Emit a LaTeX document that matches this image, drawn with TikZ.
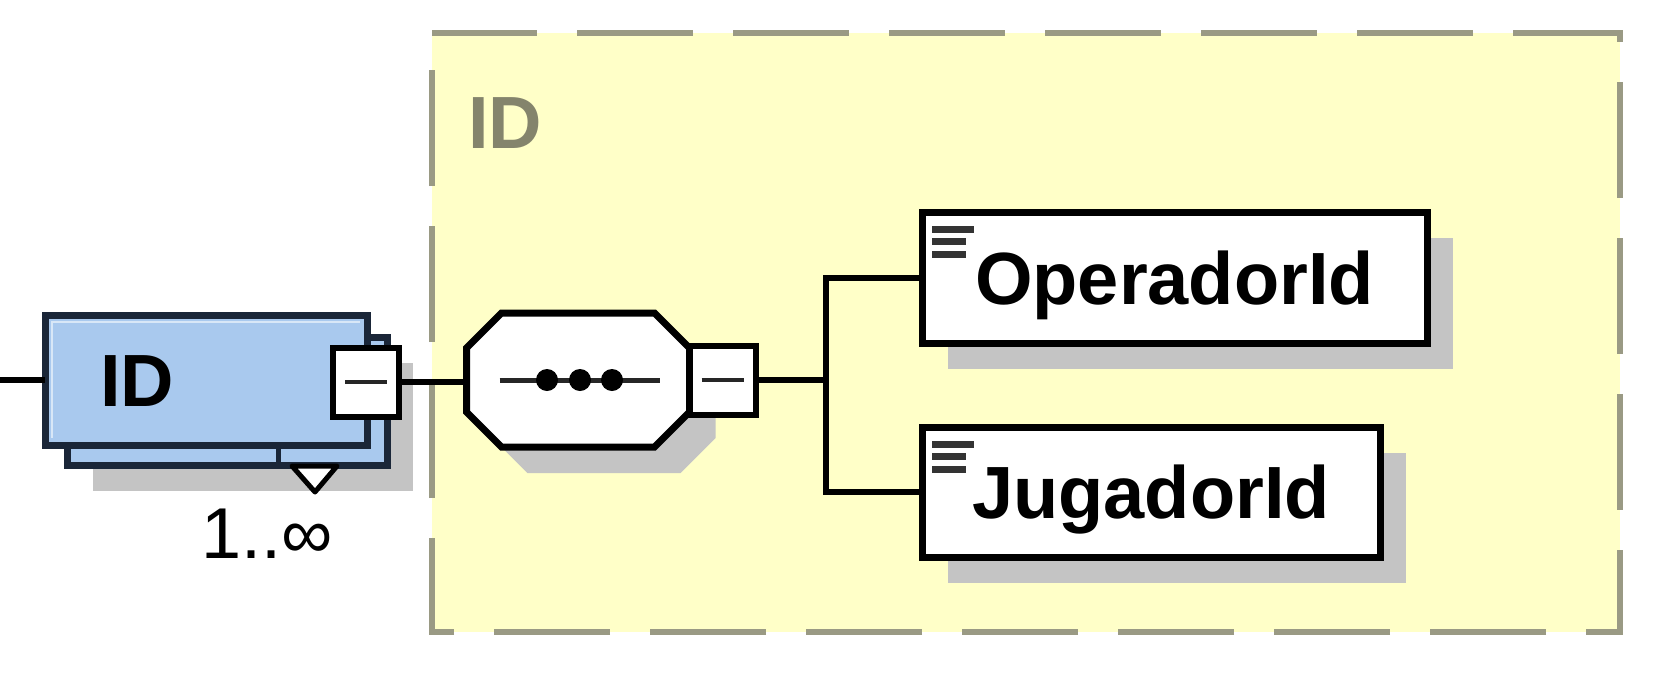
\documentclass[tikz,border=0pt]{standalone}
\usepackage{fontspec}
\setmainfont{Liberation Sans}
\usetikzlibrary{positioning,shadows}
\definecolor{groupbg}{HTML}{FFFFC8}
\definecolor{groupline}{HTML}{9A9A84}
\definecolor{grouptext}{HTML}{84846C}
\definecolor{elemblue}{HTML}{A9C9EE}
\definecolor{elemedge}{HTML}{1A2638}
\definecolor{shade}{HTML}{C4C4C4}

\begin{document}
\begin{tikzpicture}[x=1pt,y=-1pt,
    every node/.style={outer sep=0pt},
    conn/.style={line width=6pt,black},
    shd/.style={drop shadow={shadow xshift=26pt,shadow yshift=-26pt,fill=shade,opacity=1}},
    bigtext/.style={font=\fontsize{74}{84}\selectfont\bfseries,text height=53pt,text depth=0pt},
    elem/.style={draw=black,line width=7pt,fill=white,shd,bigtext,anchor=north west},
    stackbox/.style={draw=elemedge,line width=7pt,fill=elemblue,anchor=north west},
    minus/.style={draw=black,line width=6pt,fill=white,minimum width=66pt,minimum height=69pt,inner sep=0pt}]

    \useasboundingbox[fill=white] (0,0) rectangle (1663,675);

    % complex type frame
    \draw[groupline,fill=groupbg,line width=6pt,dash pattern=on 116pt off 40pt,dash phase=11pt]
      (432,33) -- (1620,33) -- (1620,632) -- (432,632) -- cycle;
    \node[bigtext,text=grouptext] (grplabel) at (505,122) {ID};

    % repeated element ID
    \node[stackbox,shd,minimum width=320pt,minimum height=128pt] (idback) at (67,337) {};
    \node[stackbox,bigtext,text width=212pt,inner xsep=55pt,align=left,minimum height=130pt] (idbox) at (45,315) {ID};
    \draw[white!55!elemblue,line width=2.5pt] ([shift={(7pt,7pt)}]idbox.south west) |- ([shift={(-7pt,-7pt)}]idbox.north east);
    \node[minus] (idminus) at (366,382) {};
    \draw[line width=4pt,black!85] ([xshift=-21pt]idminus.center) -- ([xshift=21pt]idminus.center);
    \draw[line width=5pt,elemedge] (278,445) -- (278,465);
    \draw[line width=5pt,fill=white,line join=round] (292,466) -- (337,466) -- (315,492) -- cycle;
    \node[anchor=base west,font=\fontsize{72}{80}\selectfont] (card) at (198,558) {1..∞};

    % sequence
    \node[minimum width=223pt,minimum height=134pt,inner sep=0pt] (seq) at (578,380) {};
    \filldraw[fill=white,line width=7pt,shd] ([xshift=35pt]seq.north west) -- ([xshift=-35pt]seq.north east)
      -- ([yshift=-35pt]seq.north east) -- ([yshift=35pt]seq.south east) -- ([xshift=-35pt]seq.south east)
      -- ([xshift=35pt]seq.south west) -- ([yshift=35pt]seq.south west) -- ([yshift=-35pt]seq.north west) -- cycle;
    \draw[line width=5pt,black!85] ([xshift=33pt]seq.west) -- ([xshift=-30pt]seq.east);
    \foreach \dx in {-31,2,34}
      \fill ([xshift=\dx pt]seq.center) circle (11pt);
    \node[minus,right=0pt of seq] (seqminus) {};
    \draw[line width=4pt,black!85] ([xshift=-21pt]seqminus.center) -- ([xshift=21pt]seqminus.center);

    % child elements
    \node[elem,minimum width=505pt,minimum height=131pt] (op) at (922,212) {OperadorId};
    \node[elem,minimum width=458pt,minimum height=130pt] (jug) at (922,427) {JugadorId};
    \foreach \el in {op,jug}
      \foreach \dy/\len in {17/42,29/34,42/34}
        \draw[line width=7pt,black!80] ([xshift=10pt,yshift=-\dy pt]\el.north west) -- ++(\len,0);

    % connectors
    \coordinate (start) at (0,380);
    \draw[conn] (start) -- (idbox.west);
    \draw[conn] (idminus.east) -- (idminus.east -| seq.west);
    \draw[conn] (seqminus.east) -- ++(70,0) coordinate (bus);
    \draw[conn] (bus) |- (op.west);
    \draw[conn] (bus) |- (jug.west);
  \end{tikzpicture}
\end{document}
